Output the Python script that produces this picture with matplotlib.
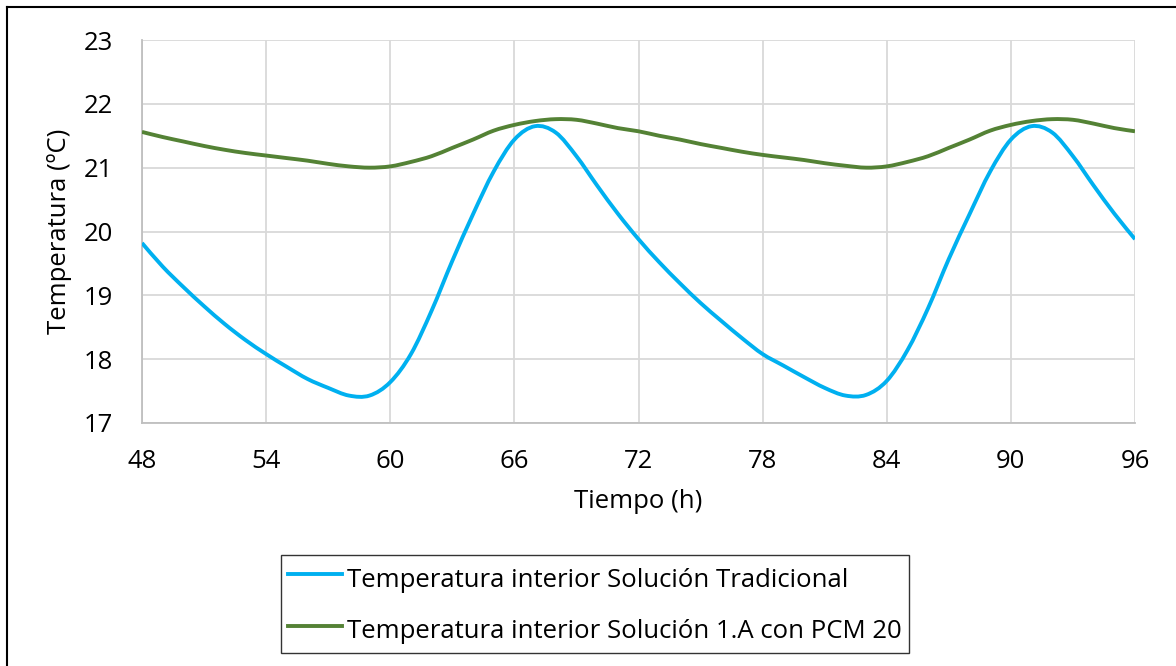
import matplotlib.pyplot as plt
from matplotlib.lines import Line2D
from matplotlib.path import Path
from matplotlib.patches import PathPatch

plt.rcParams['font.family'] = ['Open Sans', 'DejaVu Sans']

# Hourly interior temperature (ºC), hours 48..96
tiempo = list(range(48, 97))
temp_tradicional = [
    19.82, 19.45, 19.13, 18.83, 18.55, 18.30, 18.08, 17.88, 17.69, 17.55,
    17.43, 17.43, 17.64, 18.08, 18.76, 19.54, 20.27, 20.94, 21.44, 21.65,
    21.55, 21.18, 20.72, 20.28, 19.88, 19.52, 19.19, 18.88, 18.60, 18.33,
    18.08, 17.90, 17.72, 17.55, 17.43, 17.44, 17.66, 18.14, 18.80, 19.57,
    20.27, 20.94, 21.44, 21.65, 21.55, 21.18, 20.72, 20.28, 19.88,
]
temp_pcm20 = [
    21.56, 21.48, 21.41, 21.34, 21.28, 21.23, 21.19, 21.15, 21.11, 21.06,
    21.02, 21.00, 21.02, 21.09, 21.18, 21.31, 21.44, 21.58, 21.67, 21.73,
    21.76, 21.75, 21.69, 21.62, 21.57, 21.50, 21.44, 21.37, 21.31, 21.25,
    21.20, 21.16, 21.12, 21.07, 21.03, 21.00, 21.02, 21.09, 21.18, 21.31,
    21.44, 21.58, 21.67, 21.73, 21.76, 21.75, 21.69, 21.62, 21.57,
]

etiquetas = ['Temperatura interior Solución Tradicional',
             'Temperatura interior Solución 1.A con PCM 20']
xticks = list(range(48, 97, 6))
yticks = list(range(17, 24))

azul = '#00b0f0'
verde = '#548235'
LW = 2.8
FS = 18.5


def smooth_path(x, y):
    # smoothed line through every point (cubic Bezier segments, like a spreadsheet "smoothed line")
    n = len(x)
    verts = [(x[0], y[0])]
    codes = [Path.MOVETO]
    for i in range(n - 1):
        x0, y0 = (x[i - 1], y[i - 1]) if i > 0 else (x[i], y[i])
        x3, y3 = (x[i + 2], y[i + 2]) if i + 2 < n else (x[i + 1], y[i + 1])
        c1 = (x[i] + (x[i + 1] - x0) / 6, y[i] + (y[i + 1] - y0) / 6)
        c2 = (x[i + 1] - (x3 - x[i]) / 6, y[i + 1] - (y3 - y[i]) / 6)
        verts += [c1, c2, (x[i + 1], y[i + 1])]
        codes += [Path.CURVE4] * 3
    return Path(verts, codes)


fig = plt.figure(figsize=(11.76, 6.66), dpi=100)
ax = fig.add_axes([142 / 1176, 1 - 423 / 666, 993 / 1176, 383 / 666])

for serie, color in [(temp_tradicional, azul), (temp_pcm20, verde)]:
    ax.add_patch(PathPatch(smooth_path(tiempo, serie), fill=False,
                           edgecolor=color, lw=LW, capstyle='butt',
                           joinstyle='round', zorder=3))

ax.set_xlim(48, 96)
ax.set_ylim(17, 23)
ax.set_xticks(xticks)
ax.set_yticks(yticks)
ax.grid(True, color='#d9d9d9', lw=1.3)
ax.set_axisbelow(True)
for side in ['top', 'right']:
    ax.spines[side].set_visible(False)
for side in ['left', 'bottom']:
    ax.spines[side].set_color('#bfbfbf')
    ax.spines[side].set_linewidth(1.3)
ax.tick_params(length=0, labelsize=FS)
ax.tick_params(axis='x', pad=19)
ax.tick_params(axis='y', pad=21)

ax.set_xlabel('Tiempo (h)', fontsize=FS, va='center')
ax.xaxis.set_label_coords(0.5, (423 - 502) / 383)
ax.set_ylabel('Temperatura (ºC)', fontsize=FS, va='center')
ax.yaxis.set_label_coords((60 - 142) / 993, 0.5)

handles = [Line2D([], [], color=azul, lw=LW),
           Line2D([], [], color=verde, lw=LW)]
leg = fig.legend(handles, etiquetas, loc='upper left',
                 bbox_to_anchor=(281 / 1176, 1 - 555 / 666),
                 fontsize=FS, frameon=True, fancybox=False,
                 handlelength=2.1, handletextpad=0.2, handleheight=1.55,
                 labelspacing=0.75, borderpad=0.28, borderaxespad=0)
leg.get_frame().set_edgecolor('black')
leg.get_frame().set_linewidth(1.0)

# outer frame around the chart
fig.add_artist(Line2D([7 / 1176, 1.01], [1 - 6.5 / 666] * 2, color='black',
                      lw=1.5, transform=fig.transFigure))
fig.add_artist(Line2D([7 / 1176] * 2, [-0.01, 1 - 6.5 / 666], color='black',
                      lw=1.5, transform=fig.transFigure))

fig.savefig('out.png', dpi=100)
